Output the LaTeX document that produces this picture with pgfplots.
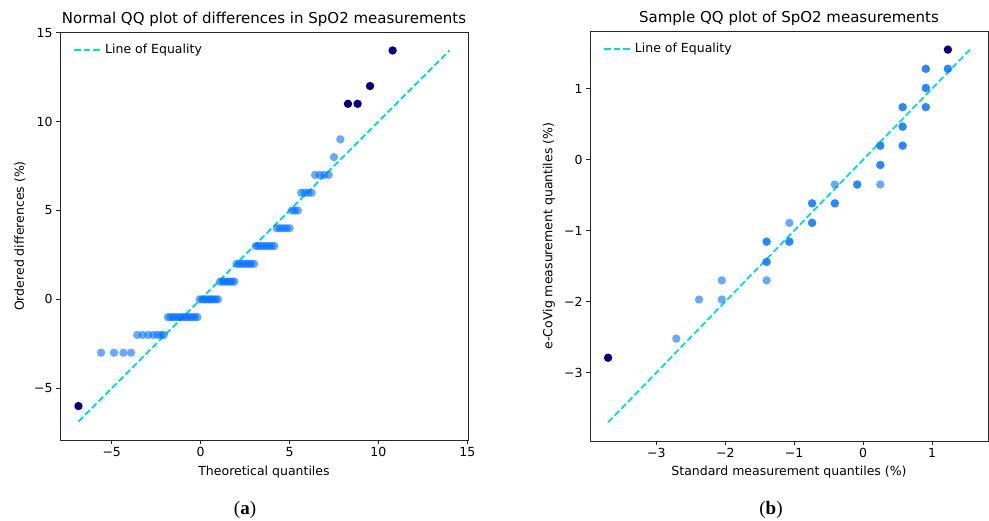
\documentclass[border=0pt]{standalone}
\usepackage{pgfplots}
\pgfplotsset{compat=1.18}
\usepackage{fontspec}
\setmainfont{DejaVu Sans}
\newfontfamily\capfont{Liberation Serif}

\definecolor{qqblue}{RGB}{0,112,255}
\definecolor{qqnavy}{RGB}{0,0,128}
\definecolor{eqline}{RGB}{0,222,210}

\pgfplotsset{
  qqaxis/.style={
    scale only axis,
    axis line style={black!85, line width=0.9pt},
    tick style={black!85, line width=0.9pt},
    tick align=outside,
    major tick length=4pt,
    xtick pos=left, ytick pos=left,
    tick label style={font=\fontsize{12.5}{15}\selectfont},
    label style={font=\fontsize{12.5}{15}\selectfont},
    every axis title shift=0pt,
    title style={font=\fontsize{15}{18}\selectfont, anchor=center},
    legend style={draw=none, fill=white, at={(0.025,0.98)}, anchor=north west,
      font=\fontsize{12.5}{15}\selectfont},
    legend cell align=left,
    legend image code/.code={\draw[#1] (0pt,0pt) -- (28pt,0pt);},
  },
  pts/.style={only marks, mark=*, mark size=4.2pt,
    mark options={draw opacity=0, fill=qqblue, fill opacity=0.6}},
  outl/.style={only marks, mark=*, mark size=4.2pt,
    mark options={draw opacity=0, fill=qqnavy}},
  eq/.style={eqline, line width=1.8pt, dash pattern=on 6.5pt off 3pt},
}

% normal QQ plot: theoretical quantile, ordered difference
\pgfplotstableread{
x y
-5.60 -3
-4.87 -3
-4.34 -3
-3.91 -3
-3.56 -2
-3.26 -2
-2.94 -2
-2.66 -2
-2.42 -2
-2.23 -2
-2.07 -2
-1.84 -1
-1.70 -1
-1.56 -1
-1.43 -1
-1.29 -1
-1.15 -1
-1.01 -1
-0.87 -1
-0.74 -1
-0.60 -1
-0.46 -1
-0.32 -1
-0.18 -1
-0.05 0
0.08 0
0.21 0
0.34 0
0.47 0
0.59 0
0.72 0
0.85 0
0.98 0
1.10 1
1.23 1
1.37 1
1.50 1
1.63 1
1.77 1
1.90 1
2.02 2
2.16 2
2.30 2
2.44 2
2.58 2
2.72 2
2.86 2
3.00 2
3.10 3
3.25 3
3.40 3
3.55 3
3.70 3
3.85 3
4.00 3
4.15 3
4.28 4
4.46 4
4.64 4
4.82 4
5.00 4
5.13 5
5.30 5
5.47 5
5.66 6
5.85 6
6.05 6
6.24 6
6.44 7
6.70 7
6.95 7
7.20 7
7.50 8
7.86 9
}\leftpts
\pgfplotstableread{
x y
-6.87 -6
8.29 11
8.83 11
9.53 12
10.80 14
}\leftout

% sample QQ plot (ties listed twice)
\pgfplotstableread{
x y
1.23 1.28
1.23 1.28
0.91 1.28
0.91 1.28
0.91 1.01
0.91 1.01
0.91 0.74
0.91 0.74
0.574 0.74
0.574 0.74
0.574 0.465
0.574 0.465
0.574 0.197
0.574 0.197
0.25 0.197
0.25 0.197
0.25 -0.075
0.25 -0.075
0.25 -0.35
-0.085 -0.35
-0.085 -0.35
-0.41 -0.35
-0.41 -0.615
-0.41 -0.615
-0.74 -0.615
-0.74 -0.615
-0.74 -0.89
-0.74 -0.89
-1.07 -0.89
-1.07 -1.155
-1.07 -1.155
-1.40 -1.155
-1.40 -1.155
-1.40 -1.44
-1.40 -1.44
-1.40 -1.70
-2.05 -1.70
-2.05 -1.97
-2.38 -1.97
-2.71 -2.52
}\rightpts
\pgfplotstableread{
x y
1.23 1.55
-3.70 -2.79
}\rightout

\begin{document}
\begin{tikzpicture}
\useasboundingbox (0pt,0pt) rectangle (989pt,521pt);

\begin{axis}[qqaxis,
  at={(60pt,81pt)}, anchor=south west,
  width=408pt, height=408pt,
  xmin=-7.91, xmax=15.04, ymin=-7.91, ymax=15.04,
  xtick={-5,0,5,10,15}, xticklabels={−5,0,5,10,15},
  ytick={-5,0,5,10,15}, yticklabels={−5,0,5,10,15},
  title={Normal QQ plot of differences in SpO2 measurements},
  title style={at={(axis description cs:0.5,1.032)}},
  xlabel={Theoretical quantiles},
  xlabel style={at={(axis description cs:0.5,-0.078)}, anchor=center},
  ylabel={Ordered differences (\%)},
  ylabel style={at={(axis description cs:-0.098,0.5)}, anchor=center},
]
\addplot[pts, forget plot] table {\leftpts};
\addplot[outl, forget plot] table {\leftout};
\addplot[eq] coordinates {(-6.87,-6.87) (14,14)};
\addlegendentry{Line of Equality}
\end{axis}

\begin{axis}[qqaxis,
  at={(590pt,80pt)}, anchor=south west,
  width=398pt, height=410pt,
  xmin=-3.9625, xmax=1.8125, ymin=-3.9625, ymax=1.8125,
  xtick={-3,-2,-1,0,1}, xticklabels={−3,−2,−1,0,1},
  ytick={-3,-2,-1,0,1}, yticklabels={−3,−2,−1,0,1},
  title={Sample QQ plot of SpO2 measurements},
  title style={at={(axis description cs:0.5,1.032)}},
  xlabel={Standard measurement quantiles (\%)},
  xlabel style={at={(axis description cs:0.5,-0.0756)}, anchor=center},
  ylabel={e-CoVig measurement quantiles (\%)},
  ylabel style={at={(axis description cs:-0.103,0.5)}, anchor=center},
]
\addplot[pts, forget plot] table {\rightpts};
\addplot[outl, forget plot] table {\rightout};
\addplot[eq] coordinates {(-3.70,-3.70) (1.55,1.55)};
\addlegendentry{Line of Equality}
\end{axis}

\node[font=\capfont\fontsize{19}{22}\selectfont] at (245pt,11pt) {(\textbf{a})};
\node[font=\capfont\fontsize{19}{22}\selectfont] at (771pt,11pt) {(\textbf{b})};
\end{tikzpicture}
\end{document}
